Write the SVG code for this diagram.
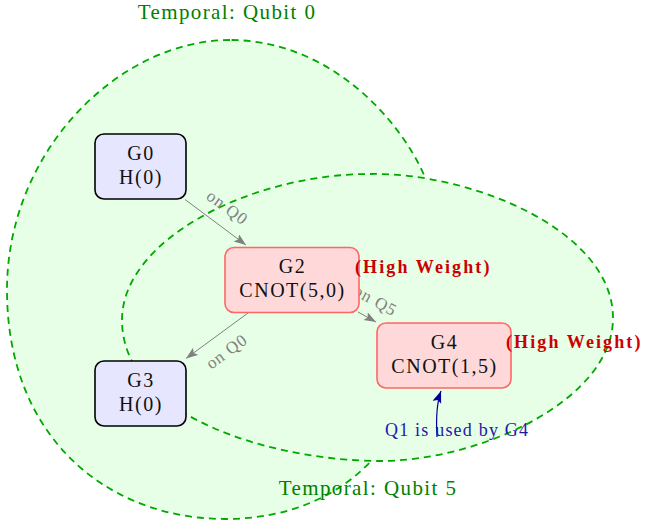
<svg xmlns="http://www.w3.org/2000/svg" width="645" height="524" viewBox="0 0 645 524">
<style>
.region{fill:#e6ffe6;stroke:#00a800;stroke-width:1.8;stroke-dasharray:7 5}
.rtitle{font-family:"Liberation Serif",serif;font-size:21px;fill:#008000;letter-spacing:1.4px;text-anchor:middle}
.qnode{fill:#e6e6ff;stroke:#000;stroke-width:1.6}
.cnode{fill:#ffd9d9;stroke:#ff6666;stroke-width:1.6}
.ntext{font-family:"Liberation Serif",serif;font-size:20px;fill:#111;letter-spacing:1.5px;text-anchor:middle}
.hw{font-family:"Liberation Serif",serif;font-size:18px;font-weight:bold;fill:#cc0000;letter-spacing:2.1px}
.edge{fill:none;stroke:#808080;stroke-width:1}
.elabel{font-family:"Liberation Serif",serif;font-size:17px;fill:#808080;letter-spacing:0.9px;text-anchor:middle}
.note{font-family:"Liberation Serif",serif;font-size:18px;fill:#1a1aaa;letter-spacing:1.2px}
</style>
<defs>
<marker id="ag" markerUnits="userSpaceOnUse" markerWidth="14" markerHeight="10" refX="12" refY="4.5" orient="auto">
<path d="M0,0 L12,4.5 L0,9 L2.5,4.5 Z" fill="#808080"/>
</marker>
<marker id="ab" markerUnits="userSpaceOnUse" markerWidth="14" markerHeight="10" refX="12" refY="4.5" orient="auto">
<path d="M0,0 L12,4.5 L0,9 L2.5,4.5 Z" fill="#000099"/>
</marker>
</defs>
<g id="regions">
<g id="region-q0">
<path class="region" d="M230,40 C120,40 7,150 7,290 C7,440 110,519 225,519 C290,519 340,495 372,460 C420,400 460,250 424,175 C400,120 330,40 230,40 Z"/>
</g>
<g id="region-q5">
<path class="region" d="M370,174 C470,172 613,230 613,318 C613,400 480,461 380,461 C280,461 122,420 122,320 C122,240 250,174 370,174 Z"/>
</g>
<text class="rtitle" x="227" y="19">Temporal: Qubit 0</text>
<text class="rtitle" x="368" y="495">Temporal: Qubit 5</text>
</g>
<g id="connectors">
<line class="edge" x1="185" y1="199.5" x2="246" y2="245" marker-end="url(#ag)"/>
<text class="elabel" transform="translate(227,208) rotate(36.6)" dy="5">on Q0</text>
<line class="edge" x1="248" y1="313" x2="186" y2="358.5" marker-end="url(#ag)"/>
<text class="elabel" transform="translate(227,352) rotate(-36.3)" dy="5">on Q0</text>
<line class="edge" x1="358" y1="312" x2="376" y2="322" marker-end="url(#ag)"/>
<text class="elabel" transform="translate(375,301) rotate(29)" dy="5">on Q5</text>
<path d="M437,437 C436,420 437,402 441,391" fill="none" stroke="#000099" stroke-width="1.2" marker-end="url(#ab)"/>
<text class="note" x="385" y="436">Q1 is used by G4</text>
</g>
<g id="G0">
<rect class="qnode" x="95" y="134" width="91" height="65" rx="9"/>
<text class="ntext" x="141" y="160">G0</text>
<text class="ntext" x="141" y="184">H(0)</text>
</g>
<g id="G3">
<rect class="qnode" x="95" y="361" width="91" height="65" rx="9"/>
<text class="ntext" x="141" y="387">G3</text>
<text class="ntext" x="141" y="411">H(0)</text>
</g>
<g id="G2">
<rect class="cnode" x="225" y="247.5" width="134" height="65" rx="9"/>
<text class="ntext" x="292.5" y="273">G2</text>
<text class="ntext" x="292.5" y="297">CNOT(5,0)</text>
<text class="hw" x="355" y="273">(High Weight)</text>
</g>
<g id="G4">
<rect class="cnode" x="377" y="323" width="134" height="65" rx="9"/>
<text class="ntext" x="444.5" y="348.5">G4</text>
<text class="ntext" x="444.5" y="372.5">CNOT(1,5)</text>
<text class="hw" x="506" y="348">(High Weight)</text>
</g>
</svg>
